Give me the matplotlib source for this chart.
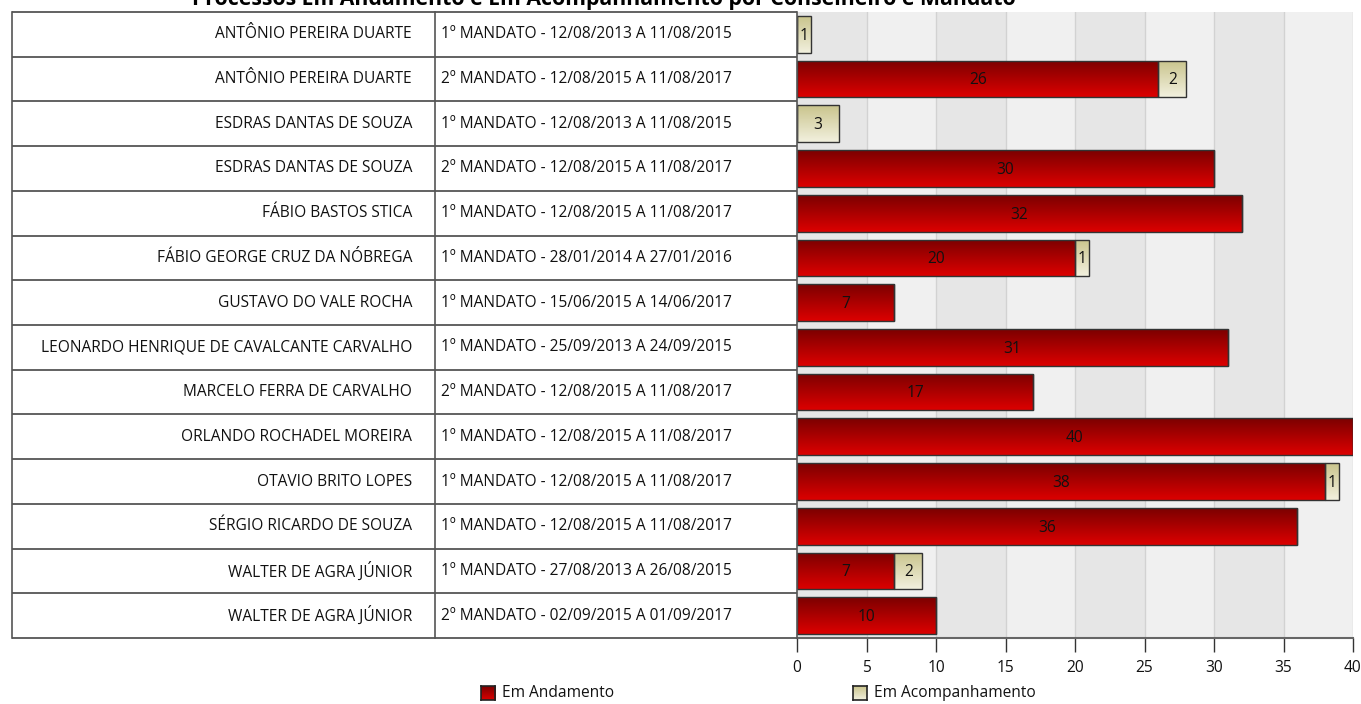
import numpy as np
import matplotlib
matplotlib.use("Agg")
import matplotlib.pyplot as plt

plt.rcParams['font.family'] = ['Open Sans', 'DejaVu Sans']

conselheiros = ["ANTÔNIO PEREIRA DUARTE", "ANTÔNIO PEREIRA DUARTE", "ESDRAS DANTAS DE SOUZA",
                "ESDRAS DANTAS DE SOUZA", "FÁBIO BASTOS STICA", "FÁBIO GEORGE CRUZ DA NÓBREGA",
                "GUSTAVO DO VALE ROCHA", "LEONARDO HENRIQUE DE CAVALCANTE CARVALHO",
                "MARCELO FERRA DE CARVALHO", "ORLANDO ROCHADEL MOREIRA", "OTAVIO BRITO LOPES",
                "SÉRGIO RICARDO DE SOUZA", "WALTER DE AGRA JÚNIOR", "WALTER DE AGRA JÚNIOR"]
mandatos = ["1º MANDATO - 12/08/2013 A 11/08/2015", "2º MANDATO - 12/08/2015 A 11/08/2017",
            "1º MANDATO - 12/08/2013 A 11/08/2015", "2º MANDATO - 12/08/2015 A 11/08/2017",
            "1º MANDATO - 12/08/2015 A 11/08/2017", "1º MANDATO - 28/01/2014 A 27/01/2016",
            "1º MANDATO - 15/06/2015 A 14/06/2017", "1º MANDATO - 25/09/2013 A 24/09/2015",
            "2º MANDATO - 12/08/2015 A 11/08/2017", "1º MANDATO - 12/08/2015 A 11/08/2017",
            "1º MANDATO - 12/08/2015 A 11/08/2017", "1º MANDATO - 12/08/2015 A 11/08/2017",
            "1º MANDATO - 27/08/2013 A 26/08/2015", "2º MANDATO - 02/09/2015 A 01/09/2017"]
em_andamento = [0, 26, 0, 30, 32, 20, 7, 31, 17, 40, 38, 36, 7, 10]
em_acompanhamento = [1, 2, 3, 0, 0, 1, 0, 0, 0, 0, 1, 0, 2, 0]
xticks = [0, 5, 10, 15, 20, 25, 30, 35, 40]
title = "Processos Em Andamento e Em Acompanhamento por Conselheiro e Mandato"

FS = 11.2
W, H = 1361, 704
fig = plt.figure(figsize=(W / 100, H / 100), dpi=100)

px0, px1, py0, py1 = 797, 1353, 12, 638
ax = fig.add_axes([px0 / W, 1 - py1 / H, (px1 - px0) / W, (py1 - py0) / H])
n = len(conselheiros)
y = np.arange(n)

# background bands
for i in range(len(xticks) - 1):
    ax.axvspan(xticks[i], xticks[i + 1], color='#e6e6e6' if i % 2 == 0 else '#f0f0f0', zorder=0, lw=0)
for t in xticks[1:]:
    ax.axvline(t, color='#d2d2d2', lw=1, zorder=0.5)

def grad(c_top, c_bot):
    a = np.array(matplotlib.colors.to_rgb(c_top))
    b = np.array(matplotlib.colors.to_rgb(c_bot))
    t = np.linspace(0, 1, 64)[:, None]
    return (a * (1 - t) + b * t)[:, None, :]

g_red = grad('#7c0000', '#dc0000')
g_kh = grad('#c9c48c', '#f2f0de')

def draw_bars(vals, left, g):
    bars = ax.barh(y, vals, left=left, height=0.82, color='none', edgecolor='#333333', lw=1, zorder=3)
    for b, v in zip(bars, vals):
        if v <= 0:
            continue
        x0, y0, w, h = b.get_x(), b.get_y(), b.get_width(), b.get_height()
        im = ax.imshow(g, extent=(x0, x0 + w, y0 + h, y0), aspect='auto', zorder=2,
                       interpolation='bilinear')
        im.set_clip_path(b)
        ax.text(x0 + w / 2, y0 + h / 2 + 0.03, str(v), ha='center', va='center',
                fontsize=FS, color='#111111', zorder=4)
    return bars

draw_bars(em_andamento, 0, g_red)
draw_bars(em_acompanhamento, em_andamento, g_kh)
ax.set_ylim(n - 0.5, -0.5)
ax.set_xlim(0, 40)

for s in ['top', 'right', 'left']:
    ax.spines[s].set_visible(False)
ax.spines['bottom'].set_color('#666666')
ax.spines['bottom'].set_linewidth(1.5)
ax.set_yticks([])
ax.set_xticks(xticks)
ax.tick_params(axis='x', length=10, width=1, color='#333333', labelsize=FS, pad=6, labelcolor='#111111')

# table
tx0, tx1 = 12, 797
tab = fig.add_axes([tx0 / W, 1 - py1 / H, (tx1 - tx0) / W, (py1 - py0) / H])
tab.set_xlim(tx0, tx1)
tab.set_ylim(n, 0)
tab.axis('off')
lc = '#555555'
for i in range(n + 1):
    tab.plot([tx0, tx1], [i, i], color=lc, lw=1.3, clip_on=False, solid_capstyle='butt')
tab.plot([tx0, tx0], [0, n], color=lc, lw=1.2, clip_on=False)
tab.plot([435, 435], [0, n], color=lc, lw=1.2, clip_on=False)
tab.plot([tx1, tx1], [0, n], color=lc, lw=1.2, clip_on=False)
for i in range(n):
    tab.text(412, i + 0.5, conselheiros[i], ha='right', va='center', fontsize=FS, color='#111111')
    tab.text(441, i + 0.5, mandatos[i], ha='left', va='center', fontsize=FS, color='#111111')

# title (partly cut off at the top, as in the reference)
fig.text(604 / W, 1 - 5 / H, title, ha='center', va='baseline', fontsize=15.3, fontweight='bold')

# legend
def legend_box(xp, g, label):
    lax = fig.add_axes([xp / W, 1 - 700 / H, 14 / W, 14 / H])
    lax.imshow(g, extent=(0, 1, 1, 0), aspect='auto')
    lax.set_xticks([]); lax.set_yticks([])
    for s in lax.spines.values():
        s.set_color('#222222'); s.set_linewidth(1.2)
    fig.text((xp + 21) / W, 1 - 693 / H, label, ha='left', va='center', fontsize=FS, color='#111111')

legend_box(481, g_red, "Em Andamento")
legend_box(853, g_kh, "Em Acompanhamento")

fig.savefig("out.png", dpi=100)
